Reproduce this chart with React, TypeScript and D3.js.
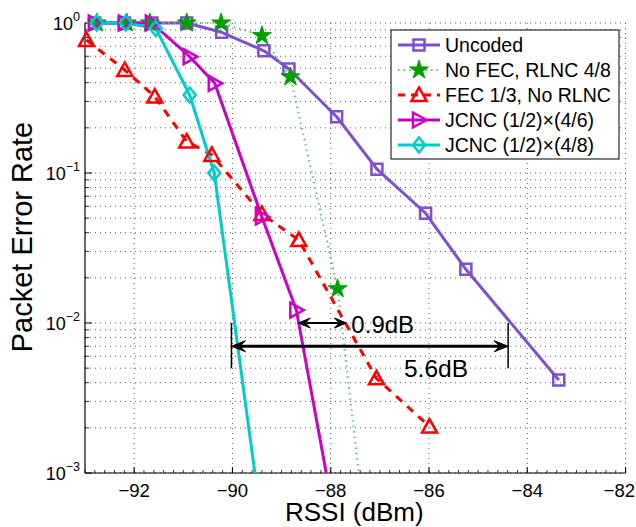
import React from 'react';
import * as d3 from 'd3';

const W = 636, H = 527;

const xTicks = [-92, -90, -88, -86, -84, -82];
const yTickExps = [0, -1, -2, -3];

const uncodedX = [-92.8, -92.2, -91.64, -90.93, -90.22, -89.36, -88.85, -87.88, -87.06, -86.07, -85.25, -83.36];
const uncodedY = [1.0, 1.0, 1.0, 1.0, 0.867, 0.653, 0.494, 0.237, 0.106, 0.0539, 0.0228, 0.00417];

const noFecX = [-92.76, -92.15, -91.68, -90.93, -90.23, -89.4, -88.82, -87.86, -87.08];
const noFecY = [1.0, 1.0, 1.0, 1.0, 1.0, 0.823, 0.437, 0.0169, 0.0001];

const fecX = [-92.97, -92.19, -91.58, -90.93, -90.42, -89.4, -88.65, -87.07, -85.99];
const fecY = [0.77, 0.486, 0.323, 0.162, 0.132, 0.0533, 0.0357, 0.00428, 0.00204];

const jcnc6X = [-92.8, -92.19, -91.64, -90.87, -90.36, -89.4, -88.7, -87.53];
const jcnc6Y = [1.0, 1.0, 1.0, 0.596, 0.396, 0.0509, 0.0122, 0.0001];

const jcnc8X = [-92.76, -92.17, -91.56, -90.87, -90.37, -89.13];
const jcnc8Y = [1.0, 1.0, 0.92, 0.331, 0.1, 0.0001];

const seriesNames = ['Uncoded', 'No FEC, RLNC 4/8', 'FEC 1/3, No RLNC', 'JCNC (1/2)\u00d7(4/6)', 'JCNC (1/2)\u00d7(4/8)'];

// annotations: [x1, x2, y] in data units
const gap09 = [-88.66, -87.68, 0.01];
const gap56 = [-90.02, -84.39, 0.007];
const gap56Bar = [0.01, 0.005];
const label09 = [-87.58, '0.9dB'];
const label56 = [-86.51, '5.6dB'];

const FONT = 'Liberation Sans, Arial, Helvetica, sans-serif';

type MarkerKind = 'square' | 'star' | 'triUp' | 'triRight' | 'diamond';

function markerPath(kind: MarkerKind): string {
  switch (kind) {
    case 'square': return 'M-5.5,-5.5H5.5V5.5H-5.5Z';
    case 'star': return d3.symbol(d3.symbolStar, 110)() as string;
    case 'triUp': return 'M0,-7.5L7.5,6L-7.5,6Z';
    case 'triRight': return 'M7.5,0L-6,-7.5L-6,7.5Z';
    case 'diamond': return 'M0,-7.5L6,0L0,7.5L-6,0Z';
  }
}

const styles = [
  { color: '#7f4fcf', dash: '', kind: 'square' as MarkerKind, fill: 'none', lineColor: '#7f4fcf', lw: 3 },
  { color: '#00a000', dash: '1.5,4', kind: 'star' as MarkerKind, fill: '#00a000', lineColor: '#55cc55', lw: 2 },
  { color: '#ff0000', dash: '8,7', kind: 'triUp' as MarkerKind, fill: 'none', lineColor: '#ff0000', lw: 3 },
  { color: '#cc00cc', dash: '', kind: 'triRight' as MarkerKind, fill: 'none', lineColor: '#cc00cc', lw: 3 },
  { color: '#00cccc', dash: '', kind: 'diamond' as MarkerKind, fill: 'none', lineColor: '#00cccc', lw: 3 },
];

function arrowHead(tx: number, ty: number, dir: number, len = 13, hw = 5.5) {
  const bx = tx - dir * len;
  const nx = tx - dir * len * 0.6;
  return `M${tx},${ty}L${bx},${ty - hw}L${nx},${ty}L${bx},${ty + hw}Z`;
}

export default function App() {
  const x = d3.scaleLinear().domain([-93, -82]).range([85, 625.6]);
  const y = d3.scaleLog().domain([1e-3, 1]).range([473, 23]);
  const x0 = x.range()[0], x1 = x.range()[1];
  const yTop = y.range()[1], yBot = y.range()[0];

  const data = [
    d3.zip(uncodedX, uncodedY),
    d3.zip(noFecX, noFecY),
    d3.zip(fecX, fecY),
    d3.zip(jcnc6X, jcnc6Y),
    d3.zip(jcnc8X, jcnc8Y),
  ] as [number, number][][];

  const line = d3.line<[number, number]>().x(d => x(d[0])).y(d => y(d[1]));

  const xMinor = d3.range(-93, -81.99, 0.2);
  const yMinor: number[] = [];
  for (const e of [-3, -2, -1]) for (let k = 2; k <= 9; k++) yMinor.push(k * Math.pow(10, e));
  const yMajor = yTickExps.map(e => Math.pow(10, e));

  const gridStyle = { stroke: '#333', strokeWidth: 0.8, strokeDasharray: '1,4' };

  const legX = 391, legY = 30, legW = 228, legH = 129;
  const legRowY = [45, 70, 95, 120, 145];

  return (
    <svg width={W} height={H} style={{ position: 'absolute', left: 0, top: 0, background: '#fff' }} fontFamily={FONT}>
      <defs>
        <clipPath id="plotclip">
          <rect x={x0} y={0} width={x1 - x0} height={yBot} />
        </clipPath>
      </defs>
      <rect x={0} y={0} width={W} height={H} fill="#fff" />
      <g>
        {yMajor.concat(yMinor).map((v, i) => (
          <line key={'gy' + i} x1={x0} x2={x1} y1={y(v)} y2={y(v)} {...gridStyle} />
        ))}
        {xTicks.map((v, i) => (
          <line key={'gx' + i} x1={x(v)} x2={x(v)} y1={yTop} y2={yBot} {...gridStyle} />
        ))}
      </g>
      <line x1={x0} x2={x0} y1={yTop} y2={yBot} stroke="#000" strokeWidth={1.2} />
      <line x1={x0} x2={x1} y1={yBot} y2={yBot} stroke="#000" strokeWidth={1.2} />
      {xMinor.map((v, i) => (
        <line key={'xm' + i} x1={x(v)} x2={x(v)} y1={yBot} y2={yBot - 3} stroke="#000" strokeWidth={0.8} />
      ))}
      {xTicks.map((v, i) => (
        <line key={'xM' + i} x1={x(v)} x2={x(v)} y1={yBot} y2={yBot - 6} stroke="#000" strokeWidth={1} />
      ))}
      {yMinor.map((v, i) => (
        <line key={'ym' + i} x1={x0} x2={x0 + 4} y1={y(v)} y2={y(v)} stroke="#000" strokeWidth={0.8} />
      ))}
      {yMajor.map((v, i) => (
        <line key={'yM' + i} x1={x0} x2={x0 + 7} y1={y(v)} y2={y(v)} stroke="#000" strokeWidth={1} />
      ))}
      {xTicks.map((v, i) => {
        const px = x(v);
        const overflow = px + 17 > W - 1;
        return (
          <text key={'xl' + i} x={overflow ? W - 1 : px} y={yBot + 24} textAnchor={overflow ? 'end' : 'middle'} fontSize={18.5}>
            {'\u2212' + Math.abs(v)}
          </text>
        );
      })}
      {yTickExps.map((e, i) => (
        <text key={'yl' + i} x={x0 - 5} y={y(Math.pow(10, e)) + 7} textAnchor="end" fontSize={18}>
          10<tspan dy={-9} fontSize={12.5}>{e === 0 ? '0' : '\u2212' + Math.abs(e)}</tspan>
        </text>
      ))}
      <text x={(x0 + x1) / 2 - 1} y={520.5} textAnchor="middle" fontSize={26}>RSSI (dBm)</text>
      <text transform={`translate(32,237) rotate(-90)`} textAnchor="middle" fontSize={29}>Packet Error Rate</text>

      <g clipPath="url(#plotclip)">
        {data.map((d, i) => (
          <path key={'l' + i} d={line(d) as string} fill="none" stroke={styles[i].lineColor}
            strokeWidth={styles[i].lw} strokeDasharray={styles[i].dash || undefined} strokeLinejoin="round" />
        ))}
      </g>
      {data.map((d, i) => (
        <g key={'m' + i}>
          {d.filter(p => p[1] >= 1e-3 && p[0] >= -93).map((p, j) => (
            <path key={j} d={markerPath(styles[i].kind)} transform={`translate(${x(p[0])},${y(p[1])})`}
              fill={styles[i].fill} stroke={styles[i].color} strokeWidth={styles[i].kind === 'star' ? 1 : 2.5} />
          ))}
        </g>
      ))}

      <g stroke="#000" fill="#000">
        <line x1={x(gap09[0]) + 8} x2={x(gap09[1]) - 8} y1={y(gap09[2])} y2={y(gap09[2])} strokeWidth={2} />
        <path d={arrowHead(x(gap09[0]), y(gap09[2]), -1, 12, 5)} strokeWidth={1} />
        <path d={arrowHead(x(gap09[1]), y(gap09[2]), 1, 12, 5)} strokeWidth={1} />
        <line x1={x(gap56[0]) + 8} x2={x(gap56[1]) - 8} y1={y(gap56[2])} y2={y(gap56[2])} strokeWidth={3} />
        <path d={arrowHead(x(gap56[0]), y(gap56[2]), -1, 14, 5.5)} strokeWidth={1} />
        <path d={arrowHead(x(gap56[1]), y(gap56[2]), 1, 14, 5.5)} strokeWidth={1} />
        <line x1={x(gap56[0])} x2={x(gap56[0])} y1={y(gap56Bar[0])} y2={y(gap56Bar[1])} strokeWidth={1.5} />
        <line x1={x(gap56[1])} x2={x(gap56[1])} y1={y(gap56Bar[0])} y2={y(gap56Bar[1])} strokeWidth={1.5} />
      </g>
      <text x={x(label09[0] as number)} y={333} fontSize={24}>{label09[1]}</text>
      <text x={x(label56[0] as number)} y={377} fontSize={24.5}>{label56[1]}</text>

      <rect x={legX} y={legY} width={legW} height={legH} fill="#fff" stroke="#000" strokeWidth={1} />
      {seriesNames.map((name, i) => (
        <g key={'lg' + i}>
          <line x1={398} x2={440} y1={legRowY[i]} y2={legRowY[i]} stroke={styles[i].lineColor}
            strokeWidth={styles[i].lw} strokeDasharray={styles[i].dash ? (i === 1 ? '1.5,4' : '7,6') : undefined} />
          <path d={markerPath(styles[i].kind)} transform={`translate(419,${legRowY[i]})`}
            fill={styles[i].fill} stroke={styles[i].color} strokeWidth={styles[i].kind === 'star' ? 1 : 2.5} />
          <text x={445} y={legRowY[i] + 7} fontSize={19.5}>{name}</text>
        </g>
      ))}
    </svg>
  );
}
